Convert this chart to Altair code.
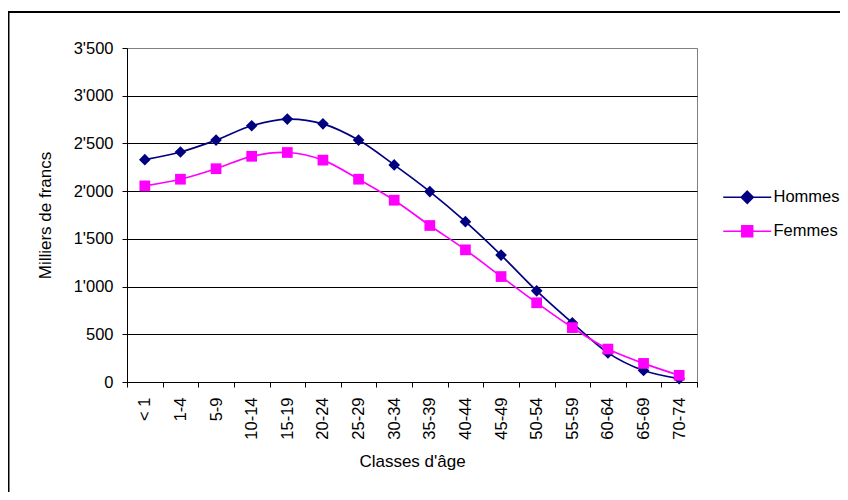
import altair as alt
import pandas as pd

ages = ["< 1", "1-4", "5-9", "10-14", "15-19", "20-24", "25-29", "30-34",
        "35-39", "40-44", "45-49", "50-54", "55-59", "60-64", "65-69", "70-74"]
hommes = [2330, 2410, 2535, 2685, 2755, 2705, 2535, 2275,
          1995, 1680, 1330, 955, 620, 305, 120, 35]
femmes = [2055, 2125, 2235, 2365, 2405, 2325, 2125, 1905,
          1640, 1385, 1105, 830, 570, 345, 195, 70]
series_names = ["Hommes", "Femmes"]
series_colors = ["#000080", "#FF00FF"]
point_shapes = ["diamond", "square"]
# legend symbols: a line segment with a (stroke-filled) marker in the middle
legend_shapes = [
    "M-4,0H4M0,-1L1,0L0,1L-1,0ZM0,-0.75L0.75,0L0,0.75L-0.75,0Z"
    "M0,-0.5L0.5,0L0,0.5L-0.5,0ZM0,-0.25L0.25,0L0,0.25L-0.25,0Z",
    "M-4,0H4M-0.9,-0.9H0.9V0.9H-0.9ZM-0.65,-0.65H0.65V0.65H-0.65Z"
    "M-0.4,-0.4H0.4V0.4H-0.4ZM-0.15,-0.15H0.15V0.15H-0.15Z",
]
legend_rows_y = [141, 175]
y_ticks = [0, 500, 1000, 1500, 2000, 2500, 3000, 3500]

rows = []
for i, a in enumerate(ages):
    rows.append({"age": a, "serie": "Hommes", "valeur": hommes[i]})
    rows.append({"age": a, "serie": "Femmes", "valeur": femmes[i]})
df = pd.DataFrame(rows)

FONT = "Liberation Sans"

x_enc = alt.X(
    "age:N", sort=ages,
    scale=alt.Scale(type="band", paddingInner=0, paddingOuter=0),
    axis=alt.Axis(title="Classes d'âge", labelAngle=-90, tickBand="extent",
                  grid=False, tickSize=5, labelPadding=10, titlePadding=14,
                  domainColor="black", tickColor="black", labelColor="black",
                  labelFontSize=16.5, titleFontSize=17, titleColor="black",
                  titleFontWeight="normal", labelFont=FONT, titleFont=FONT),
)
y_enc = alt.Y(
    "valeur:Q",
    scale=alt.Scale(domain=[0, 3500], nice=False),
    axis=alt.Axis(title="Milliers de francs", values=y_ticks,
                  labelExpr="replace(format(datum.value, ','), ',', \"'\")",
                  grid=True,
                  gridColor={"condition": {"test": "datum.value >= 3500", "value": "#808080"},
                             "value": "black"},
                  gridWidth=1, tickSize=5, labelPadding=9, titlePadding=19,
                  domainColor="black", tickColor="black", labelColor="black",
                  labelFontSize=16.5, titleFontSize=17, titleColor="black",
                  titleFontWeight="normal", labelFont=FONT, titleFont=FONT),
)
color_scale = alt.Scale(domain=series_names, range=series_colors)

frame = alt.Chart(pd.DataFrame({"k": [0]})).mark_rect(
    filled=False, stroke="black", strokeWidth=2
).encode(
    x=alt.value(-118.5), x2=alt.value(900), y=alt.value(-36), y2=alt.value(700)
)

lines = alt.Chart(df).mark_line(interpolate="catmull-rom", strokeWidth=1.7).encode(
    x=x_enc, y=y_enc,
    color=alt.Color("serie:N", scale=color_scale, legend=None),
)

points_layers = []
for name, shp, sz in zip(series_names, point_shapes, [135, 115]):
    points_layers.append(
        alt.Chart(df).transform_filter(alt.datum.serie == name)
        .mark_point(filled=True, opacity=1, size=sz, shape=shp)
        .encode(x=x_enc, y=y_enc,
                color=alt.Color("serie:N", scale=color_scale, legend=None))
    )

legend_layers = []
for name, col, path, ly in zip(series_names, series_colors, legend_shapes, legend_rows_y):
    legend_layers.append(
        alt.Chart(df).transform_filter("false").mark_point(
            filled=False, opacity=1, size=144, strokeWidth=1.6
        ).encode(
            stroke=alt.Stroke(
                "serie:N",
                scale=alt.Scale(domain=[name], range=[col]),
                legend=alt.Legend(title=None, orient="none", legendX=612, legendY=ly,
                                  symbolType=path),
            )
        )
    )

chart = alt.layer(frame, lines, *points_layers, *legend_layers).resolve_scale(
    stroke="independent"
).properties(
    width=570, height=334,
    padding={"left": 119, "top": 40, "right": 143, "bottom": 110},
    autosize=alt.AutoSizeParams(type="none"),
).configure_view(
    stroke="#808080", strokeWidth=1
).configure_legend(
    labelFont=FONT, labelFontSize=16.5, labelColor="black",
    symbolSize=144, symbolStrokeWidth=1.6, labelOffset=18,
    padding=0, symbolOpacity=1, labelLimit=300,
)

chart.save("out.html", embed_options={"renderer": "svg", "actions": False})
